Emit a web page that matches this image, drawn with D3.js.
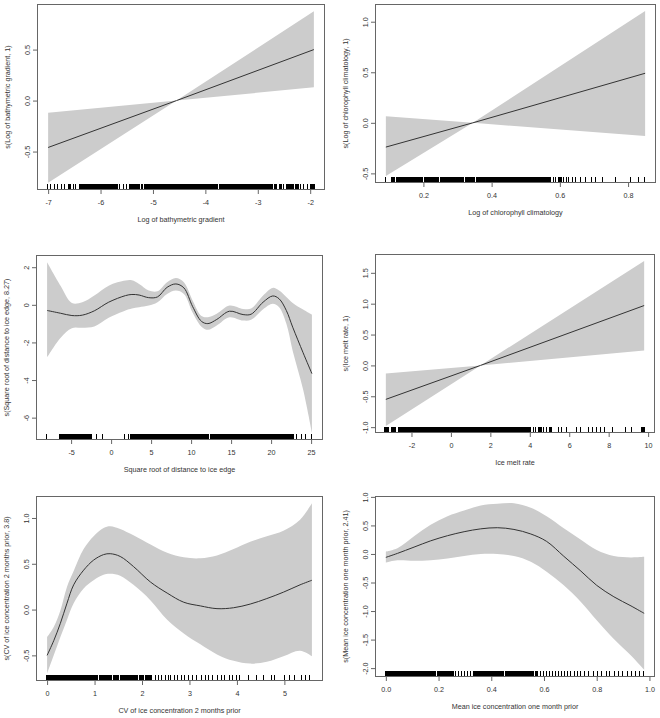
<!DOCTYPE html>
<html><head><meta charset="utf-8">
<script src="https://cdn.jsdelivr.net/npm/d3@7"></script>
<style>
body{margin:0;background:#fff}
text{font-family:"Liberation Sans",Arial,Helvetica,sans-serif;fill:#333}
</style>
</head><body>
<svg id="chart" width="660" height="718"></svg>
<script>
// ---------------- DATA ----------------
// Panel 1: Log of bathymetric gradient (linear term)
const bathyX     = [-7.0, -4.55, -1.93];
const bathyFit   = [-0.46, 0, 0.50];
const bathyUpper = [-0.12, 0, 0.875];
const bathyLower = [-0.805, 0, 0.13];
const bathyRug = [-7.00,-6.95,-6.87,-6.82,-6.74,-6.67,-6.61,-6.58,-6.51,-6.46,-6.40,
 -6.36,-6.34,-6.31,-6.29,-6.26,-6.22,-6.20,-6.17,-6.13,-6.11,-6.08,-6.05,-6.02,-5.99,-5.96,-5.94,-5.90,-5.87,-5.85,-5.82,-5.79,-5.76,-5.73,-5.71,-5.69,
 -5.63,-5.55,-5.49,-5.43,-5.41,-5.39,-5.37,-5.35,-5.32,-5.30,-5.26,-5.20,-5.16,
 -5.12,-5.10,-5.07,-5.05,-5.02,-5.00,-4.97,-4.95,-4.92,-4.90,-4.87,-4.85,-4.82,-4.80,-4.77,-4.75,-4.72,-4.70,-4.67,-4.65,-4.62,-4.60,-4.57,-4.55,-4.52,-4.50,-4.47,-4.45,-4.42,-4.40,-4.37,-4.35,-4.32,-4.30,-4.27,-4.25,-4.22,-4.20,-4.17,-4.15,-4.12,-4.10,-4.07,-4.05,-4.02,-4.00,-3.97,-3.95,-3.92,-3.90,-3.85,-3.82,-3.80,-3.77,-3.72,-3.70,-3.67,-3.65,-3.62,-3.60,-3.57,-3.55,-3.52,-3.50,-3.47,-3.45,-3.42,-3.40,-3.37,-3.35,-3.32,-3.30,-3.27,-3.25,-3.20,-3.17,-3.15,-3.12,-3.10,
 -3.06,-3.03,-3.00,-2.96,-2.93,-2.90,-2.86,-2.83,-2.80,-2.77,
 -2.72,-2.68,-2.63,-2.58,-2.55,-2.50,-2.45,-2.41,-2.37,-2.33,-2.28,-2.24,
 -2.17,-2.11,-2.05,-1.99,-1.95,-1.93];
const bathyXTicks = [-7,-6,-5,-4,-3,-2];
const bathyXLabels = ["-7","-6","-5","-4","-3","-2"];
const bathyYTicks = [-0.5,0,0.5];
const bathyYLabels = ["-0.5","0.0","0.5"];

// Panel 2: Log of chlorophyll climatology (linear term)
const chlX     = [0.09, 0.345, 0.85];
const chlFit   = [-0.24, 0, 0.49];
const chlUpper = [0.065, 0, 1.105];
const chlLower = [-0.525, 0, -0.13];
const chlRug = [0.090,0.108,0.113,0.122,0.128,0.132,0.137,
 0.140,0.144,0.148,0.152,0.156,0.160,0.164,0.168,0.172,0.176,0.180,0.184,0.188,0.192,0.196,0.204,0.208,0.212,0.216,0.220,0.224,0.228,0.232,0.236,0.240,0.244,0.252,0.256,0.260,0.264,0.268,0.272,0.276,0.280,0.284,0.288,0.292,0.296,0.300,0.304,0.308,0.312,0.316,0.324,0.328,0.332,0.336,0.340,0.344,0.348,0.356,0.360,0.364,0.368,0.376,0.380,0.384,0.388,0.392,0.396,0.400,0.404,0.408,0.412,0.416,0.420,0.424,0.428,0.432,0.436,0.440,0.444,0.448,0.452,0.456,0.464,0.468,0.472,0.476,0.480,
 0.485,0.490,0.496,0.500,0.506,0.512,0.516,0.522,0.528,0.533,0.538,0.545,0.550,0.556,0.562,0.568,
 0.575,0.583,0.590,0.598,0.604,0.612,0.620,0.628,0.640,0.648,
 0.662,0.678,0.693,0.707,0.727,0.764,0.808,0.832,0.849];
const chlXTicks = [0.2,0.4,0.6,0.8];
const chlXLabels = ["0.2","0.4","0.6","0.8"];
const chlYTicks = [-0.5,0,0.5,1.0];
const chlYLabels = ["-0.5","0.0","0.5","1.0"];

// Panel 3: Square root of distance to ice edge (edf 8.27)
const edgeX     = [-8, -6.3, -4.9, -3.6, -2.1, -0.3, 1.8, 2.6, 3.5, 4.7, 5.8, 7.0, 8.1, 9.1, 10.2, 11.3, 12.1, 13.2, 14.8, 16.5, 17.5, 19.0, 20.2, 21.0, 21.9, 22.7, 24.0, 25.1];
const edgeFit   = [-0.30, -0.45, -0.57, -0.55, -0.32, 0.14, 0.49, 0.55, 0.52, 0.38, 0.42, 0.93, 1.11, 0.90, -0.10, -0.88, -1.00, -0.78, -0.34, -0.52, -0.50, 0.14, 0.47, 0.32, -0.30, -1.19, -2.55, -3.66];
const edgeUpper = [2.26, 1.00, 0.10, 0.14, 0.50, 1.02, 1.29, 1.30, 1.11, 0.76, 0.72, 1.20, 1.43, 1.20, 0.22, -0.60, -0.66, -0.48, -0.04, -0.22, -0.20, 0.50, 0.90, 0.76, 0.42, 0.10, -0.25, -0.52];
const edgeLower = [-2.80, -1.75, -1.24, -1.22, -1.15, -0.69, -0.30, -0.20, -0.13, -0.04, 0.14, 0.58, 0.76, 0.58, -0.42, -1.16, -1.33, -1.10, -0.66, -0.84, -0.80, -0.24, 0.05, -0.13, -1.00, -2.45, -4.50, -6.80];
const edgeRug = [-8.0,-6.35,-6.2,-6.0,-5.85,-5.7,-5.5,-5.35,-5.2,-5.0,-4.85,-4.7,-4.5,-4.35,-4.2,-4.0,-3.85,-3.7,-3.5,-3.3,-3.1,-2.9,-2.7,-2.5,
 -1.8,-1.0,1.7,2.2,2.5,2.7,2.9,3.1,3.3,3.5,
 3.6,3.75,3.9,4.05,4.2,4.35,4.5,4.65,4.8,4.95,5.1,5.25,5.4,5.55,5.7,5.85,6.0,6.15,6.3,6.45,6.6,6.75,6.9,7.05,7.2,7.35,7.5,7.65,7.8,7.95,8.1,8.25,8.4,8.55,8.7,8.85,9.0,9.15,9.3,9.45,9.6,9.75,9.9,10.05,10.2,10.35,10.5,10.65,10.8,10.95,11.1,11.25,11.4,11.55,11.7,11.85,12.0,12.15,12.5,12.65,12.8,12.95,13.1,13.25,13.4,13.55,13.7,13.85,14.0,14.15,14.3,14.45,14.6,14.75,14.9,15.05,15.2,15.35,15.5,15.65,15.8,15.95,16.1,16.25,16.4,16.55,16.7,16.85,17.0,17.15,17.3,17.45,17.6,17.75,17.9,
 18.1,18.3,18.45,18.7,18.85,19.1,19.3,19.45,19.7,19.9,20.1,20.3,
 20.5,20.65,20.8,20.95,21.1,21.25,21.4,21.55,21.7,
 21.9,22.1,22.3,22.5,22.7,23.2,23.8,24.4,25.1];
const edgeXTicks = [-5,0,5,10,15,20,25];
const edgeXLabels = ["-5","0","5","10","15","20","25"];
const edgeYTicks = [-6,-4,-2,0,2];
const edgeYLabels = ["-6","-4","-2","0","2"];

// Panel 4: Ice melt rate (linear term)
const meltX     = [-3.3, 1.5, 9.8];
const meltFit   = [-0.55, 0, 0.97];
const meltUpper = [-0.13, 0, 1.69];
const meltLower = [-0.98, 0, 0.24];
const meltRug = [-3.35,-3.25,-3.12,-3.0,-2.9,-2.78,-2.65,-2.55,
 -2.45,-2.38,-2.3,-2.2,-2.12,-2.05,-1.95,-1.88,-1.8,-1.7,-1.62,-1.55,-1.45,-1.38,-1.3,-1.2,-1.12,-1.05,-0.95,-0.88,-0.8,-0.72,-0.65,-0.55,
 -0.5,-0.44,-0.37,-0.3,-0.24,-0.17,-0.1,-0.04,0.03,0.1,0.16,0.23,0.3,0.36,0.43,0.5,0.56,0.63,0.7,0.76,0.83,0.9,0.96,1.03,1.1,1.16,1.23,1.3,1.36,1.43,1.5,1.56,1.63,1.7,1.76,1.83,1.9,1.96,2.03,2.1,2.16,2.23,2.3,2.36,2.43,2.5,
 2.58,2.66,2.75,2.82,2.9,3.0,3.07,3.15,3.25,3.33,3.4,3.5,3.58,3.65,3.75,3.85,3.95,
 4.08,4.2,4.32,4.45,4.55,4.7,4.85,5.0,5.1,
 5.5,5.65,5.9,6.4,6.6,7.0,7.2,7.4,7.6,7.8,8.2,8.9,9.2,9.7,9.8];
const meltXTicks = [-2,0,2,4,6,8,10];
const meltXLabels = ["-2","0","2","4","6","8","10"];
const meltYTicks = [-1.0,-0.5,0,0.5,1.0,1.5];
const meltYLabels = ["-1.0","-0.5","0.0","0.5","1.0","1.5"];

// Panel 5: CV of ice concentration 2 months prior (edf 3.8)
const cvX     = [0, 0.14, 0.28, 0.42, 0.56, 0.77, 0.98, 1.19, 1.33, 1.54, 1.82, 2.18, 2.53, 2.88, 3.23, 3.58, 3.93, 4.28, 4.63, 4.98, 5.33, 5.58];
const cvFit   = [-0.50, -0.34, -0.15, 0.07, 0.27, 0.43, 0.54, 0.60, 0.61, 0.58, 0.47, 0.30, 0.18, 0.08, 0.04, 0.01, 0.02, 0.06, 0.12, 0.19, 0.27, 0.32];
const cvUpper = [-0.30, -0.19, -0.01, 0.25, 0.42, 0.66, 0.80, 0.89, 0.91, 0.88, 0.81, 0.71, 0.62, 0.57, 0.56, 0.59, 0.66, 0.74, 0.80, 0.86, 0.98, 1.16];
const cvLower = [-0.70, -0.50, -0.30, -0.11, 0.07, 0.23, 0.32, 0.38, 0.39, 0.37, 0.27, 0.10, -0.11, -0.26, -0.38, -0.49, -0.56, -0.59, -0.57, -0.51, -0.45, -0.51];
const cvRug = [0,0.03,0.06,0.08,0.11,0.14,0.17,0.19,0.22,0.25,0.28,0.3,0.33,0.36,0.39,0.41,0.44,0.47,0.5,0.52,0.55,0.58,0.61,0.63,0.66,0.69,0.72,0.74,0.77,0.8,0.83,
 0.86,0.89,0.92,0.96,1.0,1.03,1.06,1.11,1.14,1.18,1.21,1.24,1.29,1.32,1.35,1.4,1.44,1.47,1.5,1.55,1.59,1.62,1.66,1.7,1.74,1.78,1.82,1.86,1.9,1.95,1.99,2.03,2.08,2.12,2.16,
 2.22,2.3,2.36,2.42,2.5,2.56,2.62,2.7,2.76,2.84,2.9,
 3.0,3.08,3.16,3.26,3.35,3.42,3.5,3.6,3.68,3.75,3.85,3.92,
 4.0,4.07,4.25,4.42,4.56,4.73,4.8,5.02,5.12,5.22,5.37,5.45,5.54];
const cvXTicks = [0,1,2,3,4,5];
const cvXLabels = ["0","1","2","3","4","5"];
const cvYTicks = [-0.5,0,0.5,1.0];
const cvYLabels = ["-0.5","0.0","0.5","1.0"];

// Panel 6: Mean ice concentration one month prior (edf 2.41)
const meanX     = [0, 0.044, 0.107, 0.17, 0.234, 0.297, 0.36, 0.423, 0.486, 0.55, 0.61, 0.675, 0.74, 0.80, 0.865, 0.93, 0.98];
const meanFit   = [-0.06, 0.01, 0.12, 0.23, 0.32, 0.39, 0.44, 0.46, 0.43, 0.35, 0.22, -0.04, -0.30, -0.55, -0.75, -0.91, -1.04];
const meanUpper = [0.04, 0.10, 0.31, 0.51, 0.66, 0.76, 0.85, 0.88, 0.89, 0.81, 0.66, 0.45, 0.25, 0.07, -0.035, -0.06, -0.05];
const meanLower = [-0.15, -0.11, -0.12, -0.11, -0.08, -0.035, 0.0, 0.0, -0.035, -0.135, -0.31, -0.55, -0.84, -1.16, -1.49, -1.78, -2.03];
const meanRug = [0.000,0.005,0.010,0.015,0.020,0.025,0.030,0.036,0.040,0.046,0.050,0.055,0.062,0.066,0.070,0.076,0.080,0.086,0.090,0.095,0.100,0.106,
 0.112,0.118,0.124,0.130,0.136,0.142,0.150,0.156,0.162,0.168,0.176,0.182,0.188,0.196,
 0.206,0.212,0.218,0.226,0.232,0.240,0.248,0.256,
 0.266,0.278,0.290,0.300,0.312,0.322,0.334,
 0.342,0.348,0.354,0.362,0.368,0.376,0.382,0.390,0.396,0.404,0.410,0.418,0.424,0.432,0.440,0.446,0.454,0.460,0.468,0.476,0.482,0.490,0.498,0.506,0.512,0.520,0.528,0.536,0.544,0.552,0.560,0.568,
 0.578,0.590,0.600,0.612,0.622,0.634,0.646,0.656,0.668,0.680,0.692,0.704,0.716,0.728,0.742,0.756,0.770,
 0.790,0.806,0.820,0.838,0.852,0.868,0.884,0.900,0.918,0.934,0.950,0.966,0.980];
const meanXTicks = [0,0.2,0.4,0.6,0.8,1.0];
const meanXLabels = ["0.0","0.2","0.4","0.6","0.8","1.0"];
const meanYTicks = [-2.0,-1.5,-1.0,-0.5,0,0.5,1.0];
const meanYLabels = ["-2.0","-1.5","-1.0","-0.5","0.0","0.5","1.0"];

const xTitles = ["Log of bathymetric gradient","Log of chlorophyll climatology","Square root of distance to ice edge","Ice melt rate","CV of ice concentration 2 months prior","Mean ice concentration one month prior"];
const yTitles = ["s(Log of bathymetric gradient, 1)","s(Log of chlorophyll climatology, 1)","s(Square root of distance to ice edge, 8.27)","s(Ice melt rate, 1)","s(CV of ice concentration 2 months prior, 3.8)","s(Mean ice concentration one month prior, 2.41)"];

// ---------------- LAYOUT ----------------
const panels = [
  {box:[37.5,324.5,4.5,189.5], x:bathyX, fit:bathyFit, up:bathyUpper, lo:bathyLower, rug:bathyRug, xt:bathyXTicks, xl:bathyXLabels, yt:bathyYTicks, yl:bathyYLabels, smooth:false},
  {box:[375.5,655.5,4.5,182.5], x:chlX, fit:chlFit, up:chlUpper, lo:chlLower, rug:chlRug, xt:chlXTicks, xl:chlXLabels, yt:chlYTicks, yl:chlYLabels, smooth:false},
  {box:[36.5,322.5,255.5,439.5], x:edgeX, fit:edgeFit, up:edgeUpper, lo:edgeLower, rug:edgeRug, xt:edgeXTicks, xl:edgeXLabels, yt:edgeYTicks, yl:edgeYLabels, smooth:true},
  {box:[375.5,654.5,254.5,432.5], x:meltX, fit:meltFit, up:meltUpper, lo:meltLower, rug:meltRug, xt:meltXTicks, xl:meltXLabels, yt:meltYTicks, yl:meltYLabels, smooth:false},
  {box:[36.5,322.5,496.5,680.5], x:cvX, fit:cvFit, up:cvUpper, lo:cvLower, rug:cvRug, xt:cvXTicks, xl:cvXLabels, yt:cvYTicks, yl:cvYLabels, smooth:true},
  {box:[375.5,654.5,496.5,676.5], x:meanX, fit:meanFit, up:meanUpper, lo:meanLower, rug:meanRug, xt:meanXTicks, xl:meanXLabels, yt:meanYTicks, yl:meanYLabels, smooth:true}
];

const svg = d3.select("#chart");
const FS = 7.2;

function ext(lo, hi){ const r = hi - lo; return [lo - 0.04*r, hi + 0.04*r]; }

panels.forEach((p, i) => {
  const [L, R, T, B] = p.box;
  const xe = d3.extent(p.x);
  const x = d3.scaleLinear().domain(ext(xe[0], xe[1])).range([L, R]);
  const y = d3.scaleLinear().domain(ext(d3.min(p.lo), d3.max(p.up))).range([B, T]);
  const g = svg.append("g");
  const pts = p.x.map((v, k) => ({x: v, f: p.fit[k], u: p.up[k], l: p.lo[k]}));
  const curve = p.smooth ? d3.curveCatmullRom.alpha(0.5) : d3.curveLinear;

  g.append("path").datum(pts)
    .attr("d", d3.area().x(d => x(d.x)).y0(d => y(d.l)).y1(d => y(d.u)).curve(curve))
    .attr("fill", "#cccccc");
  g.append("path").datum(pts)
    .attr("d", d3.line().x(d => x(d.x)).y(d => y(d.f)).curve(curve))
    .attr("fill", "none").attr("stroke", "#333").attr("stroke-width", 1);

  // rug: pixel-aligned ticks; ticks in dense runs get 2px so runs close up into solid black,
  // isolated ticks stay 1px thin like the reference
  const px = p.rug.map(d => x(d));
  g.append("g").attr("shape-rendering", "crispEdges")
    .selectAll("rect").data(p.rug).join("rect")
    .attr("x", (d, k) => Math.round(px[k]) - 1)
    .attr("width", (d, k) => {
      const gapL = k > 0 ? px[k] - px[k - 1] : Infinity;
      const gapR = k < px.length - 1 ? px[k + 1] - px[k] : Infinity;
      return Math.min(gapL, gapR) < 2.2 ? 2 : 1;
    })
    .attr("y", Math.round(B - 5.5)).attr("height", 5)
    .attr("fill", "#000");

  // box
  g.append("rect").attr("x", L).attr("y", T).attr("width", R - L).attr("height", B - T)
    .attr("fill", "none").attr("stroke", "#666").attr("stroke-width", 1);

  // x axis
  const xa = g.append("g").attr("transform", `translate(0,${B})`)
    .call(d3.axisBottom(x).tickValues(p.xt).tickSize(4.5).tickFormat((d, k) => p.xl[k]));
  xa.select(".domain").remove();
  xa.selectAll("line").attr("stroke", "#666");
  xa.selectAll("text").attr("y", 10).attr("dy", "0.71em").attr("fill", null)
    .style("font-size", FS + "px").attr("font-family", null);

  // y axis
  const ya = g.append("g").attr("transform", `translate(${L},0)`)
    .call(d3.axisLeft(y).tickValues(p.yt).tickSize(4.5).tickFormat((d, k) => p.yl[k]));
  ya.select(".domain").remove();
  ya.selectAll("line").attr("stroke", "#666");
  ya.selectAll("text").attr("transform", "rotate(-90)").attr("fill", null)
    .attr("x", 0).attr("y", -10.5).attr("dy", "0.35em")
    .attr("text-anchor", "middle").style("font-size", FS + "px");

  // titles
  g.append("text").attr("x", (L + R) / 2).attr("y", B + 32)
    .attr("text-anchor", "middle").style("font-size", FS + "px").text(xTitles[i]);
  g.append("text")
    .attr("transform", `translate(${L - 30},${(T + B) / 2}) rotate(-90)`)
    .attr("text-anchor", "middle").attr("dy", "0.35em")
    .style("font-size", FS + "px").text(yTitles[i]);
});
</script>
</body></html>
